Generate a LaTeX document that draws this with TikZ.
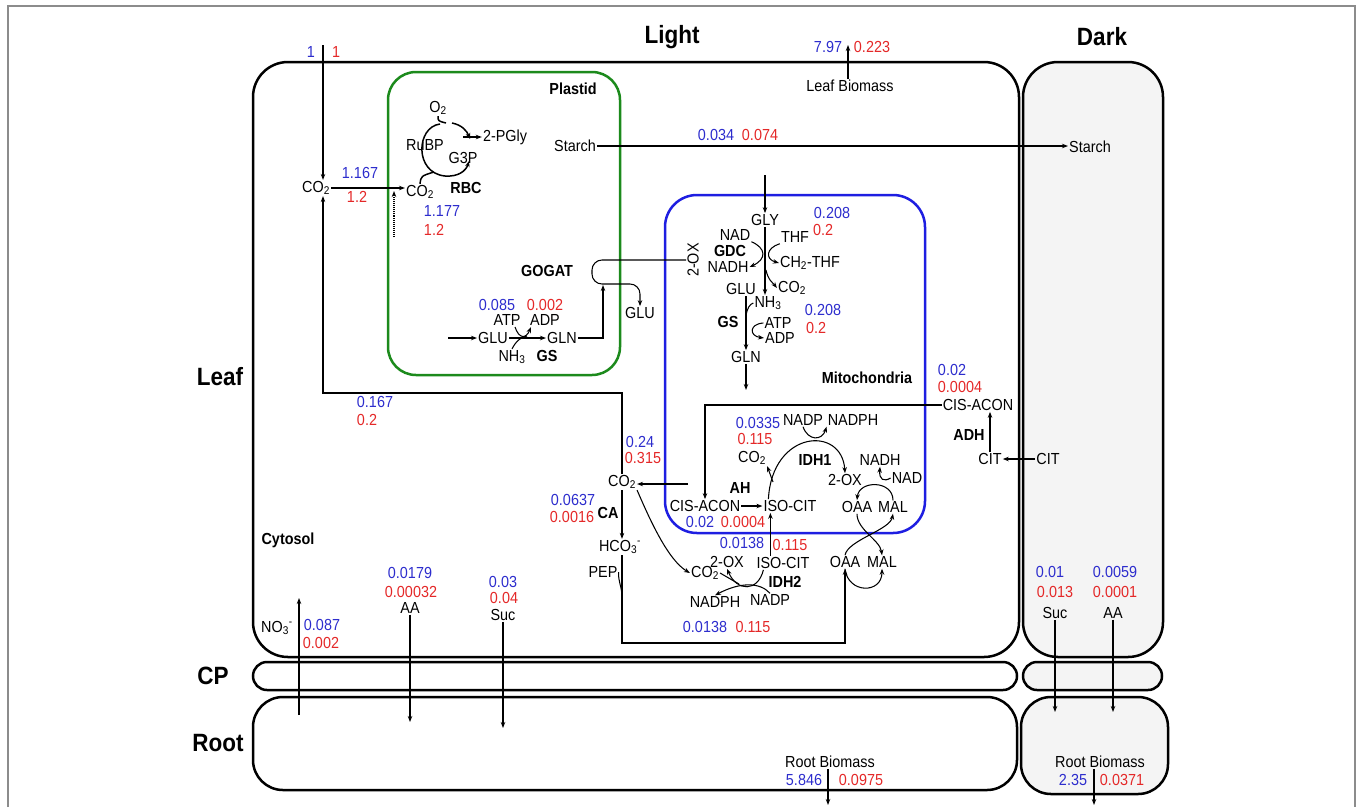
\documentclass[tikz,border=0pt]{standalone}
\usepackage{fontspec}
\setmainfont{Liberation Sans}[FakeStretch=0.9]
\usetikzlibrary{arrows.meta, positioning, calc}
\definecolor{nblue}{RGB}{45,45,205}
\definecolor{nred}{RGB}{228,40,40}
\definecolor{pgreen}{RGB}{28,138,28}
\definecolor{mblue}{RGB}{30,30,225}
\definecolor{dfill}{RGB}{244,244,244}
\definecolor{frmc}{RGB}{140,140,140}
\tikzset{
  frm/.style={draw=frmc, line width=1.6pt},
  cmp/.style={draw, line width=2.5pt, rounded corners=35pt},
  hdr/.style={font=\fontsize{25}{28}\selectfont\bfseries, inner sep=1pt},
  enz/.style={font=\fontsize{16}{18}\selectfont\bfseries, inner sep=1pt},
  met/.style={inner sep=1pt},
  vb/.style={text=nblue, inner sep=1pt},
  vr/.style={text=nred, inner sep=1pt},
  flx/.style={-{Stealth[length=6pt, width=4.5pt]}, line width=1.05pt},
  lnk/.style={line width=1.05pt},
  cyc/.style={line width=1.5pt}
}
\newcommand{\cotwo}{CO\textsubscript{2}}

\begin{document}
\begin{tikzpicture}[x=1pt, y=-1pt, font=\fontsize{16}{18}\selectfont]
		\useasboundingbox (0,0) rectangle (1360,807);
		\draw[frm] (8,807) -- (8,6) -- (1355,6) -- (1355,807);
		% titles
		\node[hdr] (lgt) at (672,37) {Light};
		\node[hdr] (drk) at (1102,37) {Dark};
		\node[hdr] (lf) at (220,377) {Leaf};
		\node[hdr] (cpl) at (213,676) {CP};
		\node[hdr] (rt) at (218,743) {Root};
		% compartments
		\draw[cmp] (253,62) rectangle (1019,657);
		\draw[cmp, fill=dfill] (1023,62) rectangle (1163,657);
		\draw[cmp, rounded corners=14pt] (253,662) rectangle (1017,690);
		\draw[cmp, rounded corners=14pt, fill=dfill] (1023,662) rectangle (1162,690);
		\draw[cmp, rounded corners=30pt] (253,697) rectangle (1017,790);
		\draw[cmp, rounded corners=30pt, fill=dfill] (1021,697) rectangle (1168,794);
		\draw[cmp, draw=pgreen, rounded corners=28pt] (388,72) rectangle (620,375);
		\draw[cmp, draw=mblue, rounded corners=32pt] (665,195) rectangle (925,533);
		\node[enz] (plas) at (573,89) {Plastid};
		\node[enz] (mito) at (867,378) {Mitochondria};
		\node[enz] (cyto) at (288,540) {Cytosol};

		% carbon uptake and Calvin cycle
		\coordinate (atm) at (323,45);
		\coordinate (bend) at (323,393);
		\node[met] (co2c) at (316,188) {\cotwo};
		\node[met] (co2p) at (420,192) {\cotwo};
		\node[met] (o2) at (438,108) {O\textsubscript{2}};
		\node[met] (rubp) at (425,145) {RuBP};
		\node[met] (g3p) at (463,158) {G3P};
		\node[met] (pgly) at (505,137) {2-PGly};
		\node[enz] (rbc) at (466,188) {RBC};
		\node[vb] (v1b) at (311,52) {1};
		\node[vr] (v1r) at (336,52) {1};
		\node[vb] (vcb) at (360,173) {1.167};
		\node[vr] (vcr) at (357,197) {1.2};
		\node[vb] (vrb) at (442,211) {1.177};
		\node[vr] (vrr) at (434,230) {1.2};
		\draw[flx] (atm) -- (atm |- co2c.north);
		\draw[flx] (co2c.east) -- (co2c.east -| co2p.west);
		\coordinate (dt0) at (394,237);
		\coordinate (dt1) at (394,191);
		\draw[flx, densely dotted] (dt0) -- (dt1);
		\draw[cyc, flx, line width=1.5pt] (440,124) .. controls (416,127) and (414,173) .. (445,176) .. controls (458,177) and (466,171) .. (469,161);
		\draw[cyc, flx, line width=1.5pt] (452,123) .. controls (462,125) and (467,131) .. (470,139);
		\draw[cyc] (o2.south) .. controls (438,121) .. (446,123);
		\draw[cyc] (co2p.north) .. controls (421,176) .. (434,172);
		\draw[flx] (463,137) -- (pgly.west);

		% starch
		\node[met] (stp) at (575,146) {Starch};
		\node[met] (std) at (1090,147) {Starch};
		\node[vb] (vsb) at (716,135) {0.034};
		\node[vr] (vsr) at (760,135) {0.074};
		\draw[flx] (stp.east) -- (stp.east -| std.west);

		% leaf biomass
		\node[met] (lb) at (850,86) {Leaf Biomass};
		\coordinate (lbt) at (848,45);
		\node[vb] (vlb) at (828,47) {7.97};
		\node[vr] (vlr) at (872,47) {0.223};
		\draw[flx] (lbt |- lb.north) -- (lbt);

		% GS / GOGAT in plastid
		\coordinate (gin) at (448,338);
		\coordinate (gq) at (603,285);
		\node[met] (glup) at (493,338) {GLU};
		\node[met] (glun) at (562,338) {GLN};
		\node[met] (atp) at (507,320) {ATP};
		\node[met] (adp) at (545,320) {ADP};
		\node[met] (nh3) at (512,357) {NH\textsubscript{3}};
		\node[enz] (gs) at (547,356) {GS};
		\node[enz] (gogat) at (547,271) {GOGAT};
		\node[met] (glum) at (640,313) {GLU};
		\node[vb] (vgb) at (497,305) {0.085};
		\node[vr] (vgr) at (545,305) {0.002};
		\draw[flx] (gin) -- (glup.west);
		\draw[flx] (glup.east) -- (glun.west);
		\draw[flx] (515,327) .. controls (519,339) and (526,339) .. (531,327);
		\draw[lnk] (nh3.north) .. controls (516,341) and (521,337) .. (527,336);
		\draw[flx] (glun.east) -| (gq);

		% GDC and GS in mitochondria
		\coordinate (gin2) at (765,175);
		\coordinate (gout) at (746,390);
		\node[met] (gly) at (765,220) {GLY};
		\node[met] (nad) at (735,235) {NAD};
		\node[met] (thf) at (795,237) {THF};
		\node[enz] (gdc) at (730,251) {GDC};
		\node[met] (nadh) at (728,267) {NADH};
		\node[met] (ch2thf) at (810,263) {CH\textsubscript{2}-THF};
		\node[met] (co2g) at (792,288) {\cotwo};
		\node[met, rotate=90] (ox2m) at (693,260) {2-OX};
		\node[met] (glum2) at (741,289) {GLU};
		\node[met] (nh3m) at (768,303) {NH\textsubscript{3}};
		\node[enz] (gsm) at (728,322) {GS};
		\node[met] (atpm) at (778,323) {ATP};
		\node[met] (adpm) at (780,338) {ADP};
		\node[met] (glnm) at (746,357) {GLN};
		\node[vb] (vdb) at (832,213) {0.208};
		\node[vr] (vdr) at (823,230) {0.2};
		\node[vb] (vmb) at (823,310) {0.208};
		\node[vr] (vmr) at (816,328) {0.2};
		\draw[flx, rounded corners=10pt] (ox2m.north) -- (592,260) -- (592,284) -| (glum.north);
		\draw[flx] (gin2) -- (gly.north);
		\draw[flx] (gly.south) -- (gly.south |- nh3m.north);
		\draw[flx] (nad.south east) .. controls (766,248) and (767,259) .. (nadh.east);
		\draw[flx] (thf.south west) .. controls (766,248) and (765,259) .. (ch2thf.west);
		\draw[flx] (766,270) .. controls (768,280) and (773,283) .. (co2g.west);
		\draw[flx] (glnm.north |- glum2.south) -- (glnm.north);
		\draw[lnk] (nh3m.west) .. controls (750,304) and (747,308) .. (746,316);
		\draw[flx] (atpm.west) .. controls (749,324) and (749,336) .. (adpm.west);
		\draw[flx] (glnm.south) -- (gout);

		% citrate branch
		\node[met] (ciscr) at (978,405) {CIS-ACON};
		\node[enz] (adh) at (969,435) {ADH};
		\node[met] (citr) at (990,459) {CIT};
		\node[met] (citd) at (1048,459) {CIT};
		\node[vb] (vab) at (952,370) {0.02};
		\node[vr] (var) at (960,387) {0.0004};
		\node[met] (cisam) at (705,506) {CIS-ACON};
		\node[enz] (ah) at (740,488) {AH};
		\node[met] (isom) at (790,506) {ISO-CIT};
		\node[vb] (vhb) at (700,522) {0.02};
		\node[vr] (vhr) at (743,522) {0.0004};
		\node[met] (co2m) at (752,458) {\cotwo};
		\node[vb] (vib) at (758,423) {0.0335};
		\node[vr] (vir) at (755,439) {0.115};
		\node[met] (nadpm) at (803,420) {NADP};
		\node[met] (nadphm) at (853,420) {NADPH};
		\node[enz] (idh1) at (815,460) {IDH1};
		\node[met] (ox2i) at (845,480) {2-OX};
		\node[met] (nadhm) at (880,460) {NADH};
		\node[met] (nadm) at (907,478) {NAD};
		\node[met] (oaam) at (857,507) {OAA};
		\node[met] (malm) at (893,507) {MAL};
		\draw[flx] (citd.west) -- (citr.east);
		\draw[flx] (citr.north) -- (citr.north |- ciscr.south);
		\draw[flx] (ciscr.west) -| (cisam.north);
		\draw[flx] (cisam.east) -- (isom.west);
		\draw[flx] ([xshift=6pt]isom.north west) .. controls (772,430) and (842,425) .. (ox2i.north);
		\draw[flx] (773,482) .. controls (771,476) .. (co2m.south east);
		\draw[flx] (nadpm.south) .. controls (808,441) and (822,441) .. (nadphm.south west);
		\draw[flx] (malm.north) .. controls (893,480) and (859,480) .. (oaam.north);
		\draw[flx] (nadm.west) .. controls (884,482) and (879,480) .. (nadhm.south);

		% cytosolic CO2, CA, PEPC, IDH2
		\coordinate (co2src) at (688,484);
		\coordinate (pb) at (622,643);
		\node[met] (co2x) at (622,482) {\cotwo};
		\node[vb] (vxb) at (640,442) {0.24};
		\node[vr] (vxr) at (643,458) {0.315};
		\node[vb] (vkb) at (375,402) {0.167};
		\node[vr] (vkr) at (367,420) {0.2};
		\node[enz] (ca) at (608,513) {CA};
		\node[vb] (vqb) at (573,500) {0.0637};
		\node[vr] (vqr) at (572,517) {0.0016};
		\node[met] (hco3) at (620,547) {HCO\textsubscript{3}\textsuperscript{-}};
		\node[met] (pep) at (603,572) {PEP};
		\node[met] (co2l) at (705,573) {\cotwo};
		\node[met] (ox2l) at (727,562) {2-OX};
		\node[met] (isol) at (783,563) {ISO-CIT};
		\node[enz] (idh2) at (785,582) {IDH2};
		\node[met] (nadphl) at (715,602) {NADPH};
		\node[met] (nadpl) at (770,600) {NADP};
		\node[vb] (vjb) at (742,543) {0.0138};
		\node[vr] (vjr) at (790,545) {0.115};
		\node[vb] (vnb) at (705,627) {0.0138};
		\node[vr] (vnr) at (753,627) {0.115};
		\node[met] (oaal) at (845,562) {OAA};
		\node[met] (mall) at (882,562) {MAL};
		\draw[flx] (co2src) -- (co2src -| co2x.east);
		\draw[flx] (co2x.north) |- (bend) -- (bend |- co2c.south);
		\draw[flx] (co2x.south) -- (co2x.south |- hco3.north);
		\draw[flx] (co2x.south east) .. controls (650,520) and (668,560) .. (co2l.west);
		\draw[flx] (hco3.south -| pb) -- (pb) -| (oaal.south);
		\draw[lnk] (pep.east) .. controls (618,582) and (622,586) .. (622,598);
		\draw[flx] ([xshift=15pt]isol.north west) -- ([xshift=15pt]isol.north west |- isom.south);
		\draw[flx] ([xshift=8pt]isol.south west) .. controls (758,592) and (737,592) .. (ox2l.south);
		\draw[lnk] (co2l.east) -- (739,584);
		\draw[flx] (nadpl.north) .. controls (760,582) and (740,582) .. (nadphl.north);
		\draw[flx] (oaal.north) .. controls (848,540) and (890,530) .. (malm.south);
		\draw[flx] (oaam.south) .. controls (857,530) and (880,540) .. (mall.north);
		\draw[flx] (oaal.south) .. controls (848,594) and (882,594) .. (mall.south);

		% exchange with root
		\coordinate (no3b) at (299,715);
		\coordinate (no3t) at (299,598);
		\node[met] (no3) at (277,628) {NO\textsubscript{3}\textsuperscript{-}};
		\node[vb] (vob) at (322,625) {0.087};
		\node[vr] (vor) at (321,643) {0.002};
		\node[met] (aa) at (410,608) {AA};
		\node[vb] (vyb) at (410,573) {0.0179};
		\node[vr] (vyr) at (411,592) {0.00032};
		\node[met] (suc) at (503,615) {Suc};
		\node[vb] (vub) at (503,582) {0.03};
		\node[vr] (vur) at (504,598) {0.04};
		\node[met] (sucd) at (1055,613) {Suc};
		\node[vb] (vtb) at (1050,572) {0.01};
		\node[vr] (vtr) at (1055,592) {0.013};
		\node[met] (aad) at (1113,613) {AA};
		\node[vb] (vzb) at (1115,572) {0.0059};
		\node[vr] (vzr) at (1115,592) {0.0001};
		\draw[flx] (no3b) -- (no3t);
		\draw[flx] (aa.south) -- (410,722);
		\draw[flx] (suc.south) -- (503,728);
		\draw[flx] (sucd.south) -- (1055,712);
		\draw[flx] (aad.south) -- (1113,712);

		% root biomass
		\node[met] (rbl) at (830,762) {Root Biomass};
		\node[vb] (vpb) at (804,780) {5.846};
		\node[vr] (vpr) at (861,780) {0.0975};
		\node[met] (rbd) at (1100,762) {Root Biomass};
		\node[vb] (vwb) at (1073,780) {2.35};
		\node[vr] (vwr) at (1122,780) {0.0371};
		\coordinate (rbt) at (828,805);
		\coordinate (rdt) at (1094,805);
		\draw[flx] (rbt |- rbl.south) -- (rbt);
		\draw[flx] (rdt |- rbd.south) -- (rdt);
	\end{tikzpicture}
\end{document}
